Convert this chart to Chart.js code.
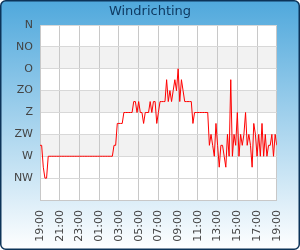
<!DOCTYPE html>
<html>
<head>
<meta charset="utf-8">
<script src="https://cdn.jsdelivr.net/npm/chart.js@4"></script>
<style>
    html, body { margin: 0; padding: 0; background: #fff; }
</style>
</head>
<body>
<canvas id="windChart" width="300" height="250"></canvas>
<script>
const chartTitle = 'Windrichting';
// y value -> compass label (0 is the empty bottom row)
const directionLabels = ['', 'NW', 'W', 'ZW', 'Z', 'ZO', 'O', 'NO', 'N'];
const timeLabels = ['19:00', '21:00', '23:00', '01:00', '03:00', '05:00', '07:00',
    '09:00', '11:00', '13:00', '15:00', '17:00', '19:00'];
// one reading every 10 minutes, 19:00 -> 19:00 (half steps = 16 point compass)
const windDirection = [
    2.5, 2.5, 1.5, 1, 1, 2, 2, 2, 2, 2, 2, 2,
    2, 2, 2, 2, 2, 2, 2, 2, 2, 2, 2, 2,
    2, 2, 2, 2, 2, 2, 2, 2, 2, 2, 2, 2,
    2, 2, 2, 2, 2, 2, 2, 2, 2, 2.5, 2.5, 3.5,
    3.5, 3.5, 3.5, 4, 4, 4, 4, 4, 4, 4.5, 4.5, 4,
    4.5, 4, 4, 3.5, 4, 4, 4, 4.5, 4, 4.5, 4.5, 3.5,
    4, 4.5, 4.5, 4.5, 4.5, 5.5, 4.5, 5, 4.5, 5, 5.5, 5,
    6, 4.5, 5.5, 5, 4.5, 4.5, 4.5, 4.5, 4.5, 3.5, 4, 4,
    4, 4, 4, 4, 4, 4, 4, 2.5, 3, 2.5, 2, 3.5,
    2.5, 1.5, 2.5, 2.5, 2, 1.5, 3, 2, 5.5, 2, 3, 2.5,
    4, 2, 3, 2.5, 3, 4, 2.5, 3, 2.5, 1.5, 3.5, 3,
    2, 3, 2, 3.5, 2, 3, 2, 2.5, 2.5, 3, 2, 3,
    2.5
];
const bandRows = [2, 4, 6]; // grey band starts (value -> value + 1)

const chartPoints = windDirection.map((v, i) => ({ x: i, y: v }));

const backgroundPlugin = {
    id: 'panelBackground',
    beforeDraw(chart) {
        const { ctx, chartArea, scales } = chart;
        const w = chart.width, h = chart.height;

        ctx.save();
        // rounded panel with blue gradient
        const grad = ctx.createLinearGradient(0, 0, 0, h);
        grad.addColorStop(0, '#4fa8dc');
        grad.addColorStop(1, '#ffffff');
        ctx.beginPath();
        ctx.roundRect(0.75, 0.75, w - 1.5, h - 1.5, 5);
        ctx.fillStyle = grad;
        ctx.fill();
        ctx.lineWidth = 1.5;
        ctx.strokeStyle = '#0c3358';
        ctx.stroke();

        // plot area
        ctx.fillStyle = '#ffffff';
        ctx.fillRect(chartArea.left, chartArea.top, chartArea.right - chartArea.left, chartArea.bottom - chartArea.top);
        ctx.fillStyle = '#f2f2f2';
        bandRows.forEach(v => {
            const y1 = scales.y.getPixelForValue(v + 1);
            const y2 = scales.y.getPixelForValue(v);
            ctx.fillRect(chartArea.left, y1, chartArea.right - chartArea.left, y2 - y1);
        });

        // title
        ctx.fillStyle = '#0f3a62';
        ctx.font = '13px "DejaVu Sans"';
        ctx.textAlign = 'center';
        ctx.textBaseline = 'middle';
        ctx.fillText(chartTitle, w / 2, 12);
        ctx.restore();
    }
};

const ctx = document.getElementById('windChart').getContext('2d');
new Chart(ctx, {
    type: 'line',
    data: {
        datasets: [{
            label: chartTitle,
            data: chartPoints,
            borderColor: '#ff0000',
            borderWidth: 1,
            pointRadius: 0,
            tension: 0,
            fill: false
        }]
    },
    options: {
        responsive: false,
        animation: false,
        devicePixelRatio: 1,
        layout: { padding: { top: 25, right: 20, left: 0, bottom: 0 } },
        plugins: {
            legend: { display: false },
            title: { display: false },
            tooltip: { enabled: false }
        },
        scales: {
            x: {
                type: 'linear',
                min: 0,
                max: 144,
                afterFit(scale) { scale.height = 50; },
                afterBuildTicks(scale) {
                    scale.ticks = timeLabels.map((t, i) => ({ value: i * 12 }));
                },
                ticks: {
                    autoSkip: false,
                    minRotation: 90,
                    maxRotation: 90,
                    padding: 10,
                    color: '#444444',
                    font: { family: 'DejaVu Sans', size: 11 },
                    callback: (value, index) => timeLabels[index]
                },
                grid: { color: '#c8c8c8', drawTicks: false },
                border: { color: '#c8c8c8' }
            },
            y: {
                type: 'linear',
                min: 0,
                max: 8,
                afterFit(scale) { scale.width = 40; },
                ticks: {
                    stepSize: 1,
                    padding: 7,
                    color: '#444444',
                    font: { family: 'DejaVu Sans', size: 11 },
                    callback: (value) => directionLabels[value]
                },
                grid: { color: '#d8d8d8', drawTicks: false },
                border: { color: '#c8c8c8' }
            }
        }
    },
    plugins: [backgroundPlugin]
});
</script>
</body>
</html>
